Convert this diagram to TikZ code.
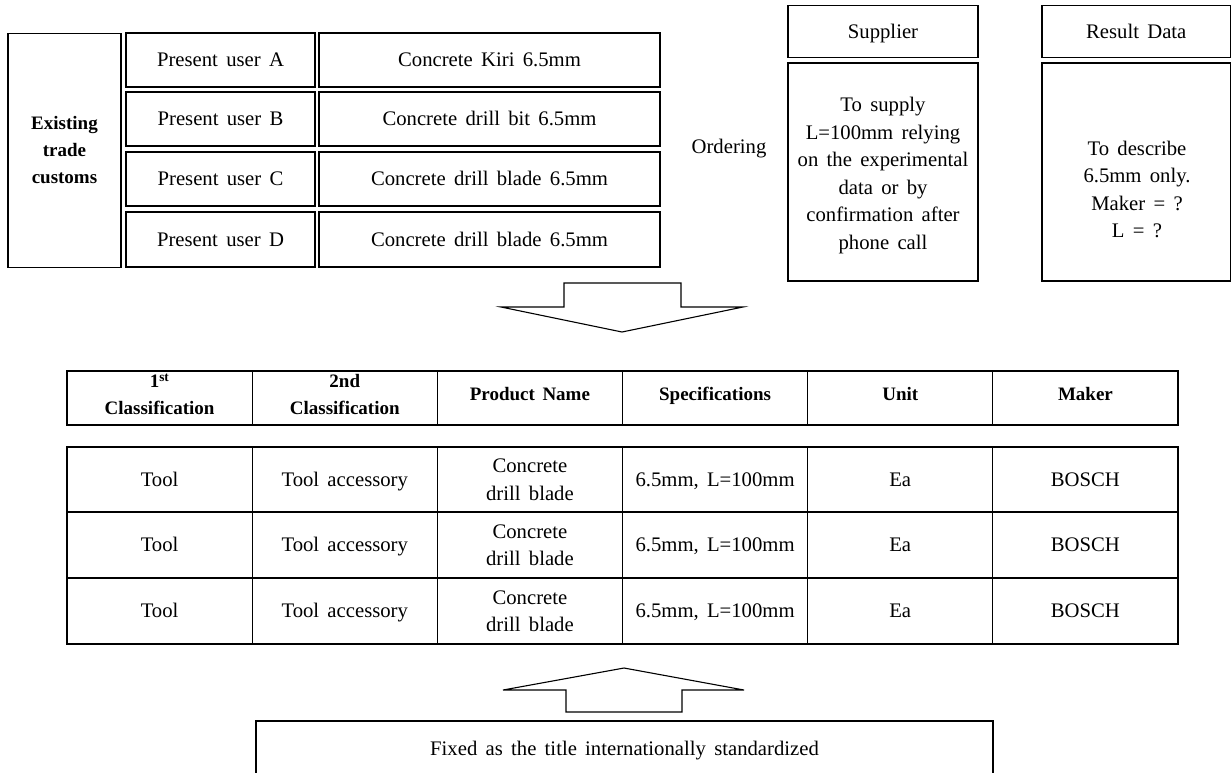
\documentclass[tikz,border=0pt]{standalone}
\usepackage{fontspec}
\setmainfont{Liberation Serif}[WordSpace=1.6]
\newcommand{\regsz}{\fontsize{20.7}{27.5}\selectfont}
\newcommand{\boldsz}{\bfseries\fontsize{19}{27}\selectfont}
\begin{document}
\begin{tikzpicture}[x=1pt,y=-1pt,
  bx/.style={draw=black, line width=1.1pt, inner sep=0pt, outer sep=0pt, align=center, font=\regsz},
  one/.style={text height=13.7pt, text depth=0pt},
  hd/.style={bx, font=\boldsz},
  lbl/.style={inner sep=0pt, align=center, font=\regsz},
  hlbl/.style={inner sep=0pt, align=center, font=\boldsz},
  blockarrow/.style={draw=black, line width=1.1pt, line join=miter, fill=white}]
\useasboundingbox[fill=white] (0,0) rectangle (1231,772);

% existing trade customs
\node[hd, minimum width=113pt, minimum height=234pt] (ex) at (64.5,150.5) {Existing\\trade\\customs};
\node[bx, one, minimum width=189pt, minimum height=54pt] (ua) at (220.5,60) {Present user A};
\node[bx, one, minimum width=189pt, minimum height=54pt] (ub) at (220.5,119) {Present user B};
\node[bx, one, minimum width=189pt, minimum height=54pt] (uc) at (220.5,179) {Present user C};
\node[bx, one, minimum width=189pt, minimum height=55pt] (ud) at (220.5,239.5) {Present user D};
\node[bx, one, minimum width=341pt, minimum height=54pt] (ca) at (489.5,60) {Concrete Kiri 6.5mm};
\node[bx, one, minimum width=341pt, minimum height=54pt] (cb) at (489.5,119) {Concrete drill bit 6.5mm};
\node[bx, one, minimum width=341pt, minimum height=54pt] (cc) at (489.5,179) {Concrete drill blade 6.5mm};
\node[bx, one, minimum width=341pt, minimum height=55pt] (cd) at (489.5,239.5) {Concrete drill blade 6.5mm};

\node[lbl, one] (ord) at (729,147) {Ordering};

\node[bx, one, minimum width=190pt, minimum height=52pt] (sup) at (883,31.5) {Supplier};
\node[bx, minimum width=190pt, minimum height=218pt] (supb) at (883,172) {};
\node[lbl] (supt) at (883,175.5)
  {To supply\\L=100mm relying\\on the experimental\\data or by\\confirmation after\\phone call};
\node[bx, one, minimum width=188.5pt, minimum height=52pt] (res) at (1136.25,31.5) {Result Data};
\node[bx, minimum width=188.5pt, minimum height=218pt] (resb) at (1136.25,172) {};
\node[lbl] (rest) at (1137,189.5) {To describe\\6.5mm only.\\Maker = ?\\L = ?};

% down block arrow
\draw[blockarrow] (564,283) -- (681,283) -- (681,307) -- (743,307) -- (622,332) -- (501,307) -- (564,307) -- cycle;

% table header
\node[hd, minimum width=185.17pt, minimum height=54pt] (h0) at (159.58,398) {};
\node[hd, minimum width=185.17pt, minimum height=54pt] (h1) at (344.75,398) {};
\node[hd, minimum width=185.17pt, minimum height=54pt] (h2) at (529.92,398) {};
\node[hd, minimum width=185.17pt, minimum height=54pt] (h3) at (715.08,398) {};
\node[hd, minimum width=185.17pt, minimum height=54pt] (h4) at (900.25,398) {};
\node[hd, minimum width=185.17pt, minimum height=54pt] (h5) at (1085.42,398) {};
\node[hlbl] (h0t) at (159.58,394) {1\textsuperscript{st}\\Classification};
\node[hlbl] (h1t) at (344.75,394) {2nd\\Classification};
\node[hlbl, text height=12.8pt, text depth=0pt] (h2t) at (529.92,394) {Product Name};
\node[hlbl, text height=12.8pt, text depth=0pt] (h3t) at (715.08,394) {Specifications};
\node[hlbl, text height=12.8pt, text depth=0pt] (h4t) at (900.25,394) {Unit};
\node[hlbl, text height=12.8pt, text depth=0pt] (h5t) at (1085.42,394) {Maker};

% table data
\foreach \r/\cy/\h in {1/479.5/65,2/545/66,3/611/66} {
  \node[bx, one, minimum width=185.17pt, minimum height=\h pt] (d\r-0) at (159.58,\cy) {Tool};
  \node[bx, one, minimum width=185.17pt, minimum height=\h pt] (d\r-1) at (344.75,\cy) {Tool accessory};
  \node[bx, minimum width=185.17pt, minimum height=\h pt] (d\r-2) at (529.92,\cy) {Concrete\\drill blade};
  \node[bx, one, minimum width=185.17pt, minimum height=\h pt] (d\r-3) at (715.08,\cy) {6.5mm, L=100mm};
  \node[bx, one, minimum width=185.17pt, minimum height=\h pt] (d\r-4) at (900.25,\cy) {Ea};
  \node[bx, one, minimum width=185.17pt, minimum height=\h pt] (d\r-5) at (1085.42,\cy) {BOSCH};
}

% up block arrow
\draw[blockarrow] (566,712) -- (682,712) -- (682,690) -- (744,690) -- (624,668) -- (503,690) -- (566,690) -- cycle;

% bottom box
\node[bx, minimum width=737pt, minimum height=79pt] (fixbox) at (624.5,760.5) {};
\node[lbl, one] (fixtxt) at (624.5,749) {Fixed as the title internationally standardized};
\end{tikzpicture}
\end{document}
